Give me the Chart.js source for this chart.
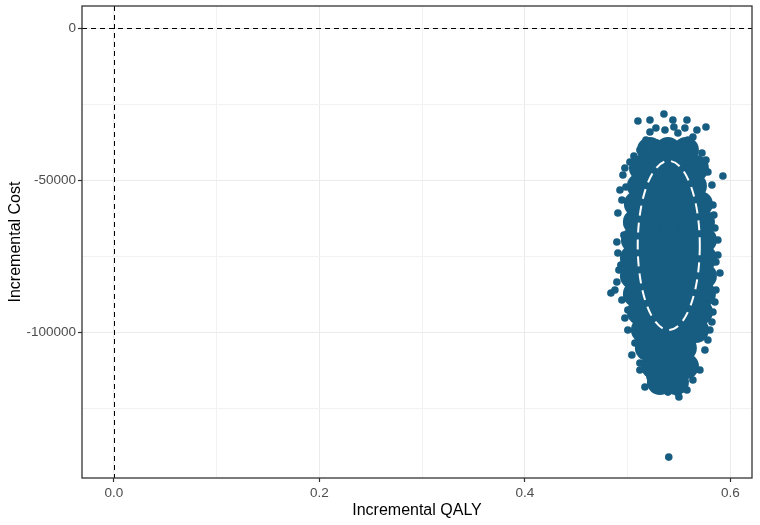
<!DOCTYPE html>
<html>
<head>
<meta charset="utf-8">
<script src="https://cdn.jsdelivr.net/npm/chart.js@4.4.1/dist/chart.umd.min.js"></script>
<style>
html,body{margin:0;padding:0;background:#fff;}
canvas{display:block;}
</style>
</head>
<body>
<canvas id="c" width="760" height="525"></canvas>
<script>
// ---- tick values ----
const xMajorTicks = [0, 0.2, 0.4, 0.6];
const xMinorTicks = [0.1, 0.3, 0.5];
const yMajorTicks = [0, -50000, -100000];
const yMinorTicks = [-25000, -75000, -125000];

// ---- reference lines ----
const refX = [0];
const refY = [0];

// ---- dense core of the simulation cloud ----
const coreQaly = [
  0.5217,0.5392,0.5567,
  0.5139,0.5314,0.5489,0.5664,
  0.5119,0.5294,0.5470,0.5645,
  0.5090,0.5265,0.5440,0.5616,0.5703,
  0.5080,0.5255,0.5431,0.5606,0.5723,
  0.5061,0.5236,0.5411,0.5586,0.5742,
  0.5051,0.5226,0.5401,0.5577,0.5742,
  0.5051,0.5226,0.5401,0.5577,0.5742,
  0.5080,0.5255,0.5431,0.5606,0.5732,
  0.5119,0.5294,0.5470,0.5645,0.5703,
  0.5158,0.5333,0.5509,0.5664,
  0.5197,0.5372,0.5547,
  0.5255,0.5411,0.5567,
  0.5314,0.5470
];
const coreCost = [
  -40100,-40100,-40100,
  -46050,-46050,-46050,-46050,
  -51970,-51970,-51970,-51970,
  -57900,-57900,-57900,-57900,-57900,
  -63820,-63820,-63820,-63820,-63820,
  -69740,-69740,-69740,-69740,-69740,
  -75660,-75660,-75660,-75660,-75660,
  -81580,-81580,-81580,-81580,-81580,
  -87500,-87500,-87500,-87500,-87500,
  -93420,-93420,-93420,-93420,-93420,
  -99340,-99340,-99340,-99340,
  -105260,-105260,-105260,
  -111190,-111190,-111190,
  -116450,-116450
];

// ---- scattered outer simulations ----
const edgeQaly = [
  0.5100,0.5217,0.5353,0.5440,0.5577,0.5762,0.5275,0.5363,0.5450,0.5557,
  0.5635,0.5178,0.5285,0.5723,0.5781,0.5927,0.5022,0.4954,0.4983,0.4944,
  0.4905,0.4895,0.4905,0.4895,0.4837,0.4944,0.5002,0.5002,0.5071,0.5119,
  0.5119,0.5168,0.5217,0.5294,0.5489,0.5499,0.5577,0.5635,0.5703,0.5752,
  0.5781,0.5820,0.5849,0.5898,0.5878,0.5878,0.5849,0.5830,0.5820,0.5762,
  0.5012,0.4934,0.4876,0.4973,0.5041,0.5392,0.5674,0.5489,0.5119,0.5061,
  0.5859,0.5800,0.4973,0.4925,0.4963,0.4915,0.5839,0.5859,0.5830,0.5217,
  0.5586,0.5400
];
const edgeCost = [
  -30590,-30260,-28290,-30260,-30260,-32570,-32900,-33550,-32570,-32900,
  -35860,-36840,-37830,-41120,-47370,-48680,-44080,-48360,-52300,-56580,
  -60860,-70400,-74010,-83550,-87170,-89470,-92760,-99340,-103620,-110200,
  -112500,-118090,-114800,-118090,-120070,-121380,-119080,-115790,-112500,-105920,
  -102630,-96710,-90130,-80590,-74670,-69740,-65790,-58220,-51650,-43420,
  -64800,-77960,-86190,-95400,-107570,-119740,-33550,-34540,-40130,-42110,
  -86190,-99340,-46050,-53290,-68090,-79610,-61510,-76970,-93420,-34210,
  -36840,-141120
];

// ---- confidence ellipse ----
const ellipseCenter = [0.540, -71500];
const ellipseRadii = [0.0302, 27800];

const POINT_COLOR = '#175D82';
const TICK_COLOR = '#4D4D4D';
const FONT = "'Liberation Sans', Arial, sans-serif";

const xAll = [...xMajorTicks, ...xMinorTicks].sort((a, b) => a - b);
const yAll = [...yMajorTicks, ...yMinorTicks].sort((a, b) => a - b);

const refLinesPlugin = {
  id: 'refLines',
  beforeDatasetsDraw(chart) {
    const {ctx, chartArea: a, scales: {x, y}} = chart;
    ctx.save();
    ctx.strokeStyle = '#000';
    ctx.lineWidth = 1;
    ctx.setLineDash([5, 4]);
    refX.forEach(v => {
      const px = Math.round(x.getPixelForValue(v)) + 0.5;
      ctx.beginPath(); ctx.moveTo(px, a.top); ctx.lineTo(px, a.bottom); ctx.stroke();
    });
    refY.forEach(v => {
      const py = Math.round(y.getPixelForValue(v)) + 0.5;
      ctx.beginPath(); ctx.moveTo(a.left, py); ctx.lineTo(a.right, py); ctx.stroke();
    });
    ctx.restore();
  }
};

const ellipsePlugin = {
  id: 'ellipse',
  afterDatasetsDraw(chart) {
    const {ctx, scales: {x, y}} = chart;
    const cx = x.getPixelForValue(ellipseCenter[0]);
    const cy = y.getPixelForValue(ellipseCenter[1]);
    const rx = Math.abs(x.getPixelForValue(ellipseCenter[0] + ellipseRadii[0]) - cx);
    const ry = Math.abs(y.getPixelForValue(ellipseCenter[1] + ellipseRadii[1]) - cy);
    ctx.save();
    ctx.strokeStyle = '#FFFFFF';
    ctx.lineWidth = 2;
    ctx.setLineDash([10, 7]);
    ctx.beginPath();
    ctx.ellipse(cx, cy, rx, ry, 0, 0, Math.PI * 2);
    ctx.stroke();
    ctx.restore();
  }
};

const borderPlugin = {
  id: 'panelBorder',
  afterDraw(chart) {
    const {ctx, chartArea: a} = chart;
    ctx.save();
    ctx.strokeStyle = '#333333';
    ctx.lineWidth = 1.3;
    ctx.strokeRect(a.left, a.top, a.right - a.left, a.bottom - a.top);
    ctx.restore();
  }
};

function zeroPad(s) {
  s.paddingTop = 0; s.paddingBottom = 0; s.paddingLeft = 0; s.paddingRight = 0;
}

new Chart(document.getElementById('c'), {
  type: 'scatter',
  data: {
    datasets: [
      {
        label: 'core',
        data: coreQaly.map((q, i) => ({x: q, y: coreCost[i]})),
        backgroundColor: POINT_COLOR,
        borderWidth: 0,
        pointRadius: 13,
        pointHoverRadius: 13
      },
      {
        label: 'simulations',
        data: edgeQaly.map((q, i) => ({x: q, y: edgeCost[i]})),
        backgroundColor: POINT_COLOR,
        borderWidth: 0,
        pointRadius: 3.8,
        pointHoverRadius: 3.8
      }
    ]
  },
  options: {
    responsive: false,
    animation: false,
    events: [],
    layout: {autoPadding: false, padding: {top: 6, right: 8, left: 0, bottom: 0}},
    plugins: {legend: {display: false}, tooltip: {enabled: false}},
    scales: {
      x: {
        type: 'linear',
        min: -0.031,
        max: 0.621,
        afterBuildTicks: s => { s.ticks = xAll.map(v => ({value: v})); },
        afterFit: s => { s.height = 47; zeroPad(s); },
        ticks: {
          autoSkip: false,
          maxRotation: 0,
          padding: 3,
          color: TICK_COLOR,
          font: {family: FONT, size: 13.5},
          callback: v => xMajorTicks.includes(v) ? v.toFixed(1) : ''
        },
        grid: {
          color: c => xMajorTicks.includes(c.tick && c.tick.value) ? '#EBEBEB' : '#F2F2F2',
          lineWidth: 1,
          tickLength: 4,
          tickColor: c => xMajorTicks.includes(c.tick && c.tick.value) ? '#333333' : 'rgba(0,0,0,0)',
          tickWidth: 1.2
        },
        border: {display: false},
        title: {
          display: true,
          text: 'Incremental QALY',
          color: '#000',
          font: {family: FONT, size: 16},
          padding: {top: 0, bottom: 5}
        }
      },
      y: {
        type: 'linear',
        min: -148000,
        max: 7240,
        afterBuildTicks: s => { s.ticks = yAll.map(v => ({value: v})); },
        afterFit: s => { s.width = 82; zeroPad(s); },
        ticks: {
          autoSkip: false,
          padding: 2,
          color: TICK_COLOR,
          font: {family: FONT, size: 13.5},
          callback: v => yMajorTicks.includes(v) ? String(v) : ''
        },
        grid: {
          color: c => yMajorTicks.includes(c.tick && c.tick.value) ? '#EBEBEB' : '#F2F2F2',
          lineWidth: 1,
          tickLength: 4,
          tickColor: c => yMajorTicks.includes(c.tick && c.tick.value) ? '#333333' : 'rgba(0,0,0,0)',
          tickWidth: 1.2
        },
        border: {display: false},
        title: {
          display: true,
          text: 'Incremental Cost',
          color: '#000',
          font: {family: FONT, size: 16},
          padding: {top: 6, bottom: 0}
        }
      }
    }
  },
  plugins: [refLinesPlugin, ellipsePlugin, borderPlugin]
});
</script>
</body>
</html>
